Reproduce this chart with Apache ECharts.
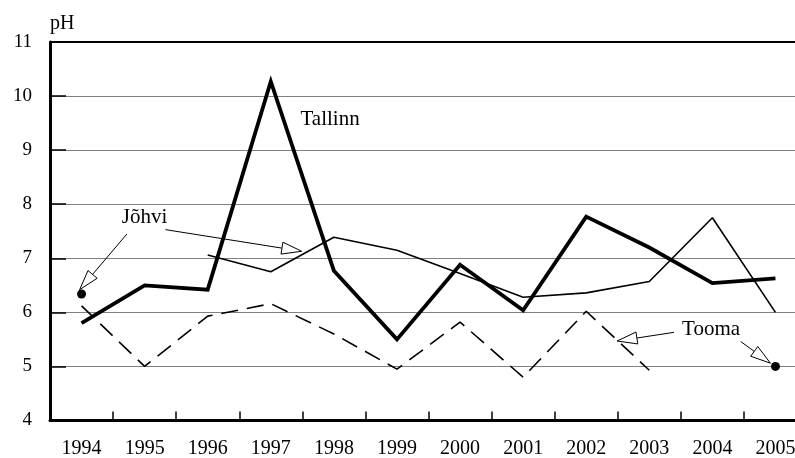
<!DOCTYPE html>
<html>
<head>
<meta charset="utf-8">
<script src="https://cdn.jsdelivr.net/npm/echarts@6/dist/echarts.min.js"></script>
<style>
html,body{margin:0;padding:0;background:#fff;}
#chart{width:795px;height:458px;}
</style>
</head>
<body>
<div id="chart"></div>
<script>
// ---- data ----
const years = ['1994','1995','1996','1997','1998','1999','2000','2001','2002','2003','2004','2005'];
const tallinn = [5.8, 6.5, 6.42, 10.27, 6.77, 5.5, 6.88, 6.04, 7.77, 7.2, 6.54, 6.63];
const johvi   = [6.34, null, 7.06, 6.75, 7.39, 7.15, 6.72, 6.28, 6.36, 6.57, 7.75, 6.0];
const tooma   = [6.12, 5.0, 5.93, 6.16, 5.6, 4.95, 5.82, 4.8, 6.02, 4.93, null, 5.0];
const yTicks  = [4, 5, 6, 7, 8, 9, 10, 11];
const yUnit   = 'pH';

// annotations in data space: [category index (fractional), value]
const labels = [
  {text: 'Jõhvi',   at: [1.0, 7.75]},
  {text: 'Tallinn', at: [3.94, 9.56]},
  {text: 'Tooma',   at: [9.98, 5.69]}
];
const arrows = [
  {from: [0.72, 7.45], to: [-0.03, 6.42]},
  {from: [1.33, 7.53], to: [3.49, 7.13]},
  {from: [9.39, 5.63], to: [8.49, 5.47]},
  {from: [10.45, 5.46], to: [10.92, 5.06]}
];

const FONT = "'Liberation Serif','Times New Roman',serif";

function withDots(arr) {
  return arr.map((v, i) => {
    const prev = i > 0 ? arr[i-1] : null;
    const next = i < arr.length - 1 ? arr[i+1] : null;
    if (v != null && prev == null && next == null) {
      return {value: v, symbol: 'circle', symbolSize: 9, itemStyle: {color: '#000'}};
    }
    return v;
  });
}

const chart = echarts.init(document.getElementById('chart'), null, {renderer: 'canvas'});

chart.setOption({
  animation: false,
  backgroundColor: '#fff',
  grid: {left: 50, top: 42, height: 378.5, width: 757, containLabel: false, outerBoundsMode: 'none'},
  xAxis: [{
    type: 'category',
    data: years,
    boundaryGap: true,
    axisLine: {show: true, lineStyle: {color: '#000', width: 3}},
    axisTick: {show: true, inside: true, length: 9, lineStyle: {color: '#000', width: 1.5}},
    axisLabel: {color: '#000', fontFamily: FONT, fontSize: 20, margin: 18},
    splitLine: {show: false}
  }, {
    type: 'category',
    data: years,
    position: 'top',
    axisLine: {show: true, lineStyle: {color: '#000', width: 2}},
    axisTick: {show: false},
    axisLabel: {show: false},
    splitLine: {show: false}
  }],
  yAxis: {
    type: 'value',
    min: yTicks[0],
    max: yTicks[yTicks.length - 1],
    interval: 1,
    name: yUnit,
    nameLocation: 'end',
    nameGap: 8,
    nameTextStyle: {color: '#000', fontFamily: FONT, fontSize: 20, align: 'left', padding: [0, 0, 0, 0]},
    axisLine: {show: true, lineStyle: {color: '#000', width: 3}},
    axisTick: {show: true, inside: true, length: 16, lineStyle: {color: '#000', width: 1.5}},
    axisLabel: {color: '#000', fontFamily: FONT, fontSize: 19, margin: 18},
    splitLine: {show: true, lineStyle: {color: '#808080', width: 1}}
  },
  series: [{
    name: 'Tooma',
    type: 'line',
    data: withDots(tooma),
    symbol: 'none',
    showSymbol: true,
    connectNulls: false,
    lineStyle: {color: '#000', width: 1.6, type: [17, 9]},
    itemStyle: {color: '#000'},
    z: 3
  }, {
    name: 'Jõhvi',
    type: 'line',
    data: withDots(johvi),
    symbol: 'none',
    showSymbol: true,
    connectNulls: false,
    lineStyle: {color: '#000', width: 1.6},
    itemStyle: {color: '#000'},
    z: 4
  }, {
    name: 'Tallinn',
    type: 'line',
    data: tallinn,
    symbol: 'none',
    lineStyle: {color: '#000', width: 3.8, join: 'miter'},
    z: 5
  }]
});

function toPx(pt) {
  const x0 = chart.convertToPixel({xAxisIndex: 0}, 0);
  const x1 = chart.convertToPixel({xAxisIndex: 0}, 1);
  const y = chart.convertToPixel({yAxisIndex: 0}, pt[1]);
  return [x0 + pt[0] * (x1 - x0), y];
}

const graphics = [];
labels.forEach(l => {
  const p = toPx(l.at);
  graphics.push({
    type: 'text', x: p[0], y: p[1], z: 20,
    style: {text: l.text, fill: '#000', font: "21px " + FONT, textAlign: 'center', textVerticalAlign: 'middle'}
  });
});
const HEAD_LEN = 20, HEAD_HALF = 6;
arrows.forEach(a => {
  const s = toPx(a.from), t = toPx(a.to);
  const dx = t[0] - s[0], dy = t[1] - s[1];
  const len = Math.sqrt(dx*dx + dy*dy);
  const ux = dx / len, uy = dy / len;
  const bx = t[0] - ux * HEAD_LEN, by = t[1] - uy * HEAD_LEN;
  const nx = -uy, ny = ux;
  graphics.push({
    type: 'line', z: 20,
    shape: {x1: s[0], y1: s[1], x2: bx, y2: by},
    style: {stroke: '#000', lineWidth: 1}
  });
  graphics.push({
    type: 'polygon', z: 21,
    shape: {points: [[t[0], t[1]], [bx + nx*HEAD_HALF, by + ny*HEAD_HALF], [bx - nx*HEAD_HALF, by - ny*HEAD_HALF]]},
    style: {fill: '#fff', stroke: '#000', lineWidth: 1}
  });
});
chart.setOption({graphic: graphics});
</script>
</body>
</html>
